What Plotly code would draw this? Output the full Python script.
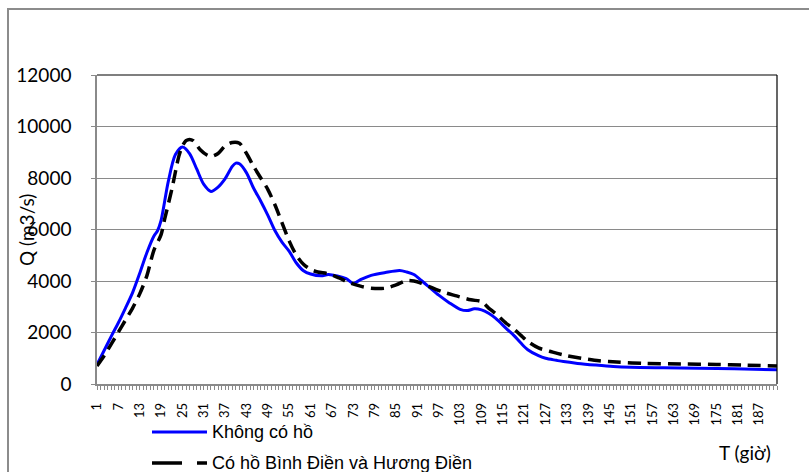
import plotly.graph_objects as go

# Series 1: Không có hồ
hours_a = [1, 3, 5, 7, 9, 11, 13, 15, 17, 18, 19, 21, 23, 25, 27, 29, 31, 33, 35, 37, 39, 40, 41, 43, 45, 47, 49, 51,
           53, 55, 57, 59, 61, 64, 66, 71, 73, 75, 78, 82, 86, 88, 90, 92, 94, 97, 100, 103, 105, 107, 109, 111,
           113, 116, 118, 120, 122, 125, 127, 130, 132, 136, 141, 146, 151, 160, 170, 180, 192]
q_a = [750, 1300, 1850, 2380, 2950, 3550, 4300, 5100, 5750, 5950, 6350, 7850, 8900, 9200, 8950, 8350, 7750, 7480,
       7650, 7980, 8450, 8580, 8550, 8200, 7600, 7100, 6550, 5950, 5500, 5150, 4700, 4400, 4270, 4200, 4250, 4090,
       3900, 4050, 4220, 4330, 4410, 4350, 4250, 4030, 3800, 3450, 3150, 2900, 2850, 2920, 2880, 2750, 2550, 2150,
       1900, 1600, 1330, 1100, 1000, 920, 870, 800, 735, 680, 650, 630, 610, 590, 550]

# Series 2: Có hồ Bình Điền và Hương Điền
hours_b = [1, 3, 5, 8, 11, 13, 15, 17, 19, 20, 22, 24, 25, 26, 27, 28, 30, 32, 33, 35, 37, 39, 41, 43, 45, 47, 49,
           51, 53, 55, 57, 59, 61, 63, 66, 69, 72, 75, 78, 82, 85, 88, 90, 92, 94, 98, 102, 106, 109, 111, 113, 116,
           118, 120, 122, 125, 129, 133, 137, 142, 147, 155, 165, 175, 183, 192]
q_b = [700, 1100, 1550, 2250, 2950, 3500, 4200, 5200, 5800, 6400, 7550, 8850, 9250, 9450, 9500, 9450, 9100, 8880,
       8830, 8950, 9250, 9380, 9350, 8950, 8450, 8000, 7550, 6950, 6250, 5550, 5000, 4650, 4450, 4350, 4280, 4120,
       3930, 3800, 3720, 3720, 3850, 4020, 4000, 3920, 3800, 3580, 3420, 3270, 3200, 2950, 2730, 2350, 2150, 1900,
       1650, 1400, 1240, 1100, 1000, 900, 850, 800, 775, 760, 735, 700]

series_names = ["Không có hồ", "Có hồ Bình Điền và Hương Điền"]
series_colors = ["#0000FF", "#000000"]

x_ticks = list(range(1, 188, 6))
y_ticks = [0, 2000, 4000, 6000, 8000, 10000, 12000]

# plot area geometry (px)
L, T, W, H = 97, 75, 680, 309


def px(xp):
    return (xp - L) / W


def py(yp):
    return (T + H - yp) / H


fig = go.Figure()
fig.add_trace(go.Scatter(x=hours_a, y=q_a, mode="lines", name=series_names[0],
                         line=dict(color=series_colors[0], width=3, shape="spline", smoothing=0.8)))
fig.add_trace(go.Scatter(x=hours_b, y=q_b, mode="lines", name=series_names[1],
                         line=dict(color=series_colors[1], width=3.5, dash="13px,7px", shape="spline",
                                   smoothing=0.8)))

grid = "#8a8a8a"
fig.update_layout(
    width=809, height=472,
    margin=dict(l=L, r=809 - L - W, t=T, b=472 - T - H, autoexpand=False),
    paper_bgcolor="white", plot_bgcolor="white",
    font=dict(family="Lato", color="black"),
    showlegend=False,
    xaxis=dict(range=[1, 192], tickmode="array", tickvals=x_ticks, ticktext=[str(v) for v in x_ticks],
               tickangle=-90, tickfont=dict(size=13), ticks="outside", ticklen=4, tickcolor=grid,
               showline=True, linecolor=grid, linewidth=1.5, showgrid=False, zeroline=False,
               ticklabelstandoff=8, automargin=False,
               minor=dict(dtick=1, tick0=1, ticks="outside", ticklen=4, tickcolor=grid, showgrid=False)),
    yaxis=dict(range=[0, 12000], tickmode="array", tickvals=y_ticks, ticktext=[str(v) for v in y_ticks],
               tickfont=dict(size=19), ticks="outside", ticklen=4, automargin=False,
               tickcolor=grid, showline=True, linecolor=grid, linewidth=1.5, showgrid=True, gridcolor=grid,
               gridwidth=1, zeroline=False, ticklabelstandoff=16),
)

# plot-area top and right borders
fig.add_shape(type="line", xref="paper", yref="paper", x0=0, x1=1, y0=1, y1=1, line=dict(color="black", width=1.2))
fig.add_shape(type="line", xref="paper", yref="paper", x0=1, x1=1, y0=0, y1=1, line=dict(color="black", width=1.2))
# outer chart border (extends past right/bottom edges)
fig.add_shape(type="rect", xref="paper", yref="paper", x0=px(8), x1=px(820), y0=py(485), y1=py(9),
              line=dict(color="#8c8c8c", width=2))

# legend drawn below the axis
fig.add_shape(type="line", xref="paper", yref="paper", x0=px(152), x1=px(207), y0=py(432), y1=py(432),
              line=dict(color=series_colors[0], width=3))
fig.add_shape(type="line", xref="paper", yref="paper", x0=px(152), x1=px(207), y0=py(463), y1=py(463),
              line=dict(color=series_colors[1], width=3.5, dash="30px,15px"))
fig.add_annotation(text=series_names[0], xref="paper", yref="paper", x=px(210), y=py(432), showarrow=False,
                   xanchor="left", yanchor="middle", font=dict(family="Liberation Sans", size=18, color="black"))
fig.add_annotation(text=series_names[1], xref="paper", yref="paper", x=px(210), y=py(463), showarrow=False,
                   xanchor="left", yanchor="middle", font=dict(family="Liberation Sans", size=18, color="black"))

fig.add_annotation(text="Q (m3/s)", xref="paper", yref="paper", x=px(27), y=py(230), textangle=-90,
                   showarrow=False, font=dict(family="Lato", size=19, color="black"),
                   xanchor="center", yanchor="middle")
fig.add_annotation(text="T (giờ)", xref="paper", yref="paper", x=px(745), y=py(452), showarrow=False,
                   font=dict(family="Lato", size=19, color="black"), xanchor="center", yanchor="middle")

fig.write_html("out.html", config={"displayModeBar": False},
               post_script="document.body.style.margin='0';document.body.style.overflow='hidden';")
